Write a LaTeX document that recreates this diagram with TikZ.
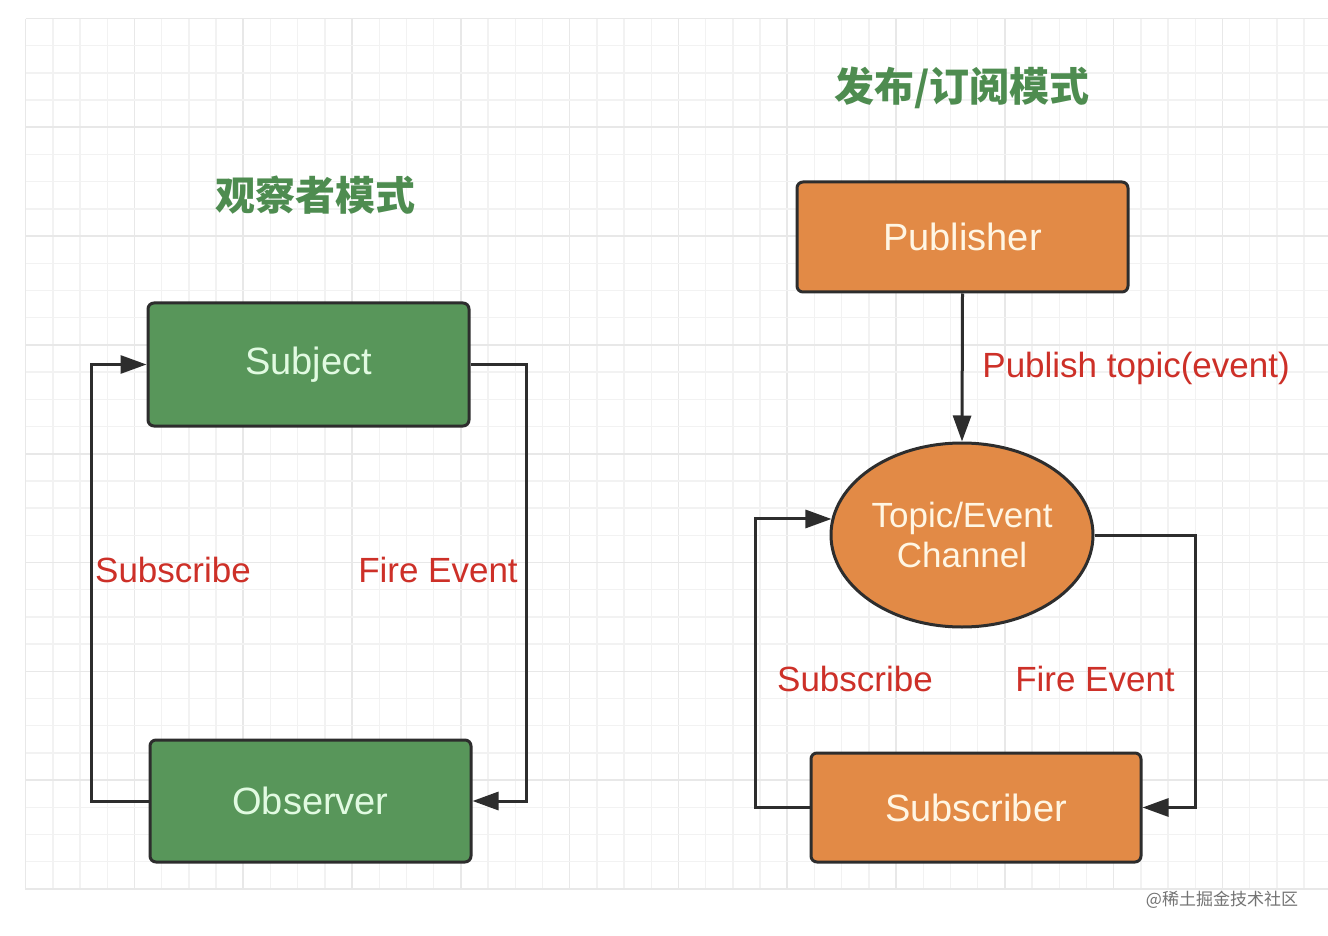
\documentclass[tikz,border=0pt]{standalone}
\usepackage{fontspec}
\setmainfont{Liberation Sans}
\newfontfamily\cjk{Noto Sans CJK SC}
\usetikzlibrary{arrows.meta,shapes.geometric}
\definecolor{gfill}{RGB}{88,150,90}
\definecolor{ofill}{RGB}{226,138,70}
\definecolor{edge}{RGB}{45,45,45}
\definecolor{lbl}{RGB}{205,48,40}
\definecolor{ttl}{RGB}{78,140,80}
\definecolor{gtxt}{RGB}{225,250,225}
\definecolor{otxt}{RGB}{255,246,228}
\definecolor{gminor}{RGB}{242,242,242}
\definecolor{gmajor}{RGB}{232,232,232}
\tikzset{
  box/.style={draw=edge, line width=1.5pt, rounded corners=3pt, inner sep=0pt, font=\fontsize{19}{22}\selectfont},
  gbox/.style={box, fill=gfill, text=gtxt},
  obox/.style={box, fill=ofill, text=otxt},
  conn/.style={draw=edge, line width=1.5pt},
  arr/.style={conn, -{Triangle[length=13pt,width=9pt]}},
  lab/.style={text=lbl, font=\fontsize{17.5}{20}\selectfont, inner sep=0pt},
  title/.style={text=ttl, font=\cjk\bfseries\fontsize{20}{24}\selectfont, inner sep=0pt},
}
\begin{document}
\begin{tikzpicture}[x=0.5pt,y=-0.5pt]
\useasboundingbox (0,0) rectangle (1328,936);
\fill[white] (0,0) rectangle (1328,936);
% grid
\foreach \k in {0,...,48}{
  \pgfmathsetmacro\xx{25.6+27.2*\k}
  \pgfmathtruncatemacro\mm{mod(\k,4)}
  \ifnum\mm=0
    \draw[gmajor, line width=0.8pt] (\xx,19) -- (\xx,890);
  \else
    \draw[gminor, line width=0.7pt] (\xx,19) -- (\xx,890);
  \fi
}
\foreach \k in {0,...,32}{
  \pgfmathsetmacro\yy{18.5+27.2*\k}
  \pgfmathtruncatemacro\mm{mod(\k,4)}
  \ifnum\mm=0
    \draw[gmajor, line width=0.8pt] (26,\yy) -- (1328,\yy);
  \else
    \draw[gminor, line width=0.7pt] (26,\yy) -- (1328,\yy);
  \fi
}
% titles
\node[title] (t1) at (315,195) {观察者模式};
\node[title] (t2) at (962,88) {发布/订阅模式};
% observer pattern
\node[gbox, minimum width=160.5pt, minimum height=61.5pt] (subj) at (308.5,364.5) {Subject};
\node[gbox, minimum width=160.5pt, minimum height=61pt] (obs) at (310.5,801) {Observer};
\draw[arr] (obs.west) -- ++(-57,0) |- (subj.west);
\draw[arr] (subj.east) -- ++(56,0) |- (obs.east);
\node[lab] (l1) at (173,570) {Subscribe};
\node[lab] (l2) at (438,570) {Fire Event};
% pub/sub pattern
\node[obox, minimum width=165.5pt, minimum height=55pt] (pub) at (962.5,237) {Publisher};
\node[ellipse, draw=edge, line width=1.5pt, fill=ofill, text=otxt, minimum width=131pt, minimum height=92pt, inner sep=0pt, align=center, font=\fontsize{17.5}{20}\selectfont] (ch) at (962,535) {Topic/Event\\Channel};
\node[obox, minimum width=165pt, minimum height=54.5pt] (sub) at (976,807.5) {Subscriber};
\draw[arr] (pub.south) -- (ch.north);
\node[lab, anchor=west] (l3) at (982,368) {Publish topic(event)};
\draw[arr] (sub.west) -- ++(-54,0) |- (ch.173);
\draw[arr] (ch.east) -- ++(101,0) |- (sub.east);
\node[lab] (l4) at (855,679) {Subscribe};
\node[lab] (l5) at (1095,679) {Fire Event};
% watermark
\node[text=black!55, font=\cjk\fontsize{8.5}{10}\selectfont, inner sep=0pt] (wm) at (1222,900) {@稀土掘金技术社区};
\end{tikzpicture}
\end{document}
